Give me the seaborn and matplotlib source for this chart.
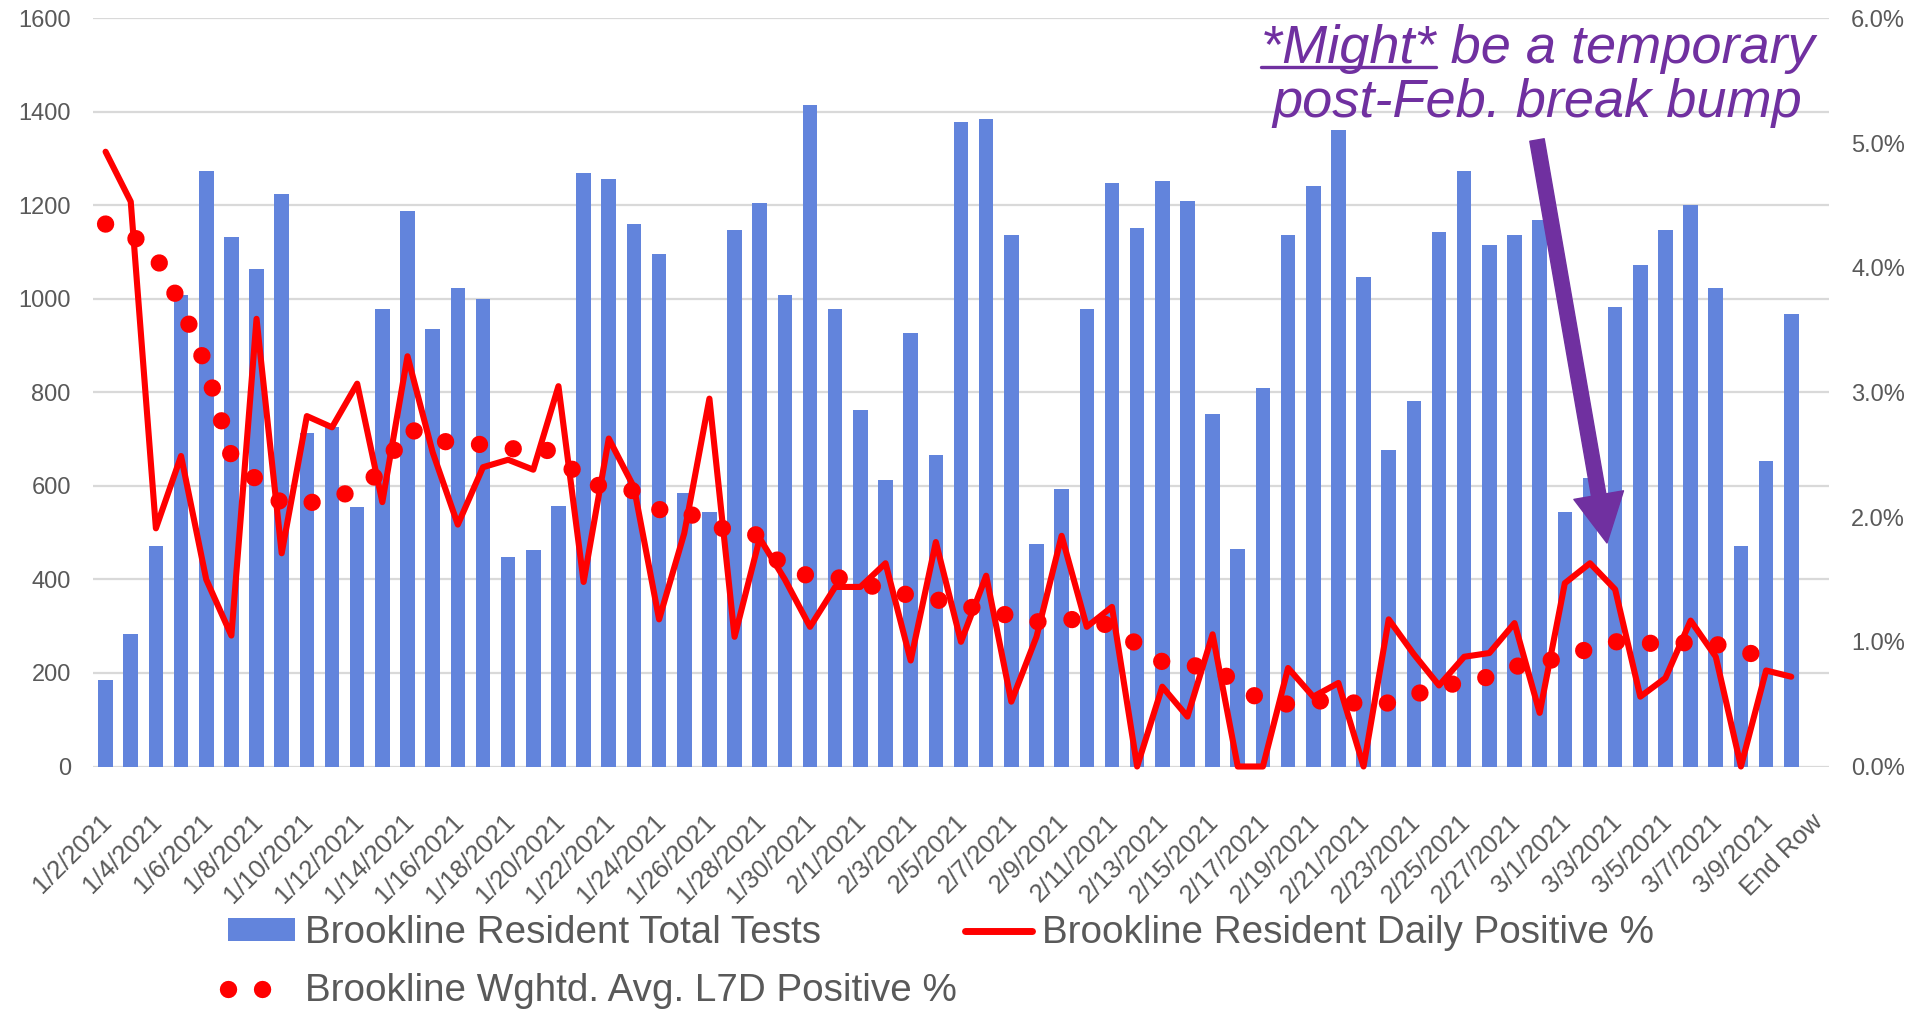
import numpy as np
import pandas as pd
import matplotlib
matplotlib.use("Agg")
import matplotlib.pyplot as plt
import matplotlib.transforms as mtransforms
import seaborn as sns
from matplotlib.lines import Line2D
from matplotlib.patches import Patch, FancyArrowPatch

# ------------------------------------------------------------
# DATA
# ------------------------------------------------------------
day_labels = [f"{d.month}/{d.day}/{d.year}" for d in pd.date_range("2021-01-02", "2021-03-10")]
categories = day_labels + ["End Row"]

total_tests = [184, 283, 472, 1009, 1274, 1132, 1064, 1224, 713, 726,
               554, 978, 1187, 936, 1023, 1000, 448, 462, 558, 1269,
               1256, 1160, 1096, 585, 544, 1147, 1206, 1009, 1415, 978,
               763, 613, 928, 667, 1378, 1384, 1137, 475, 594, 978,
               1247, 1151, 1252, 1210, 754, 466, 809, 1137, 1242, 1361,
               1046, 676, 782, 1142, 1274, 1115, 1137, 1169, 544, 618,
               982, 1073, 1147, 1200, 1023, 472, 653, 968]

daily_pos = [4.93, 4.53, 1.91, 2.49, 1.50, 1.05, 3.59, 1.71, 2.81, 2.72,
             3.07, 2.12, 3.29, 2.52, 1.94, 2.40, 2.46, 2.38, 3.05, 1.48,
             2.63, 2.24, 1.18, 1.87, 2.95, 1.04, 1.83, 1.50, 1.12, 1.44,
             1.44, 1.63, 0.85, 1.80, 1.00, 1.53, 0.52, 1.04, 1.85, 1.12,
             1.28, 0.00, 0.64, 0.40, 1.06, 0.00, 0.00, 0.79, 0.56, 0.67,
             0.00, 1.18, 0.90, 0.65, 0.88, 0.91, 1.15, 0.43, 1.47, 1.63,
             1.42, 0.56, 0.71, 1.17, 0.88, 0.00, 0.77, 0.72]

l7d_pos = [4.35, 4.27, 4.09, 3.70, 3.21, 2.49, 2.30, 2.11, 2.11, 2.15,
           2.22, 2.37, 2.72, 2.61, 2.60, 2.58, 2.55, 2.54, 2.53, 2.26,
           2.25, 2.21, 2.06, 2.06, 1.92, 1.90, 1.85, 1.57, 1.53, 1.52,
           1.47, 1.42, 1.37, 1.34, 1.28, 1.27, 1.20, 1.16, 1.17, 1.19,
           1.12, 0.98, 0.84, 0.81, 0.80, 0.66, 0.52, 0.50, 0.52, 0.54,
           0.49, 0.51, 0.57, 0.65, 0.67, 0.72, 0.80, 0.84, 0.87, 0.95,
           1.00, 1.00, 0.97, 1.00, 0.98, 0.93, 0.87]

left_ticks = [0, 200, 400, 600, 800, 1000, 1200, 1400, 1600]
right_ticks = [0, 1, 2, 3, 4, 5, 6]

BLUE = "#6284DC"
RED = "#FF0000"
PURPLE = "#7030A0"
GRAY = "#595959"
GRID = "#D9D9D9"

DOT_LW = 12.5
DOTS = (0, (0.001, 1.96))

# ------------------------------------------------------------
# FIGURE
# ------------------------------------------------------------
sns.set_theme(style="white")
plt.rcParams["font.family"] = ["Liberation Sans", "DejaVu Sans"]

W, H = 1909, 1011
fig = plt.figure(figsize=(W / 100, H / 100), dpi=100)
ax = fig.add_axes([93 / W, 1 - 766.5 / H, 1736 / W, 748.2 / H])

df = pd.DataFrame({"date": day_labels, "tests": total_tests})
sns.barplot(data=df, x="date", y="tests", order=categories, color=BLUE,
            saturation=1, width=0.58, linewidth=0, ax=ax)

ax2 = ax.twinx()
sns.lineplot(x=np.arange(len(daily_pos)), y=daily_pos, ax=ax2, color=RED,
             lw=4.4, legend=False, clip_on=False)
sns.lineplot(x=np.arange(len(l7d_pos)), y=l7d_pos, ax=ax2, color=RED,
             lw=DOT_LW, linestyle=DOTS, dash_capstyle="round",
             legend=False, clip_on=False)

# axes styling
ax.set_xlim(-0.5, 68.5)
ax.set_ylim(0, 1600)
ax2.set_ylim(0, 6)
ax.set_yticks(left_ticks)
ax2.set_yticks(right_ticks)
ax2.set_yticklabels([f"{v:.1f}%" for v in right_ticks])
ax.set_xticks(range(0, len(categories), 2))
ax.set_xticklabels(categories[::2], rotation=45, ha="right", rotation_mode="anchor")

for a in (ax, ax2):
    a.set_xlabel("")
    a.set_ylabel("")
    for s in a.spines.values():
        s.set_visible(False)
ax.yaxis.grid(True, color=GRID, lw=1.6)
ax.set_axisbelow(True)
ax2.grid(False)

ax.tick_params(axis="y", length=0, pad=16, labelsize=17, labelcolor=GRAY)
ax2.tick_params(axis="y", length=0, pad=16, labelsize=17, labelcolor=GRAY)
ax.tick_params(axis="x", length=0, pad=31, labelsize=18.5, labelcolor=GRAY)
shift = mtransforms.ScaledTranslation(-6 / 100, 0, fig.dpi_scale_trans)
for lab in ax.get_xticklabels():
    lab.set_transform(lab.get_transform() + shift)

# legend
handles = [
    Patch(facecolor=BLUE, edgecolor="none"),
    Line2D([], [], color=RED, lw=DOT_LW, linestyle=DOTS, dash_capstyle="round"),
    Line2D([], [], color=RED, lw=5),
]
names = ["Brookline Resident Total Tests",
         "Brookline Wghtd. Avg. L7D Positive %",
         "Brookline Resident Daily Positive %"]
fig.legend(handles, names, ncol=2, loc="upper left",
           bbox_to_anchor=(228 / W, 1 - 915 / H), frameon=False,
           fontsize=27.8, labelcolor=GRAY, borderpad=0, borderaxespad=0,
           handlelength=1.74, handleheight=0.52, handletextpad=0.26,
           columnspacing=0.2, labelspacing=0.57)

# annotation
fig.canvas.draw()
renderer = fig.canvas.get_renderer()
txt_kw = dict(color=PURPLE, fontsize=39, fontstyle="italic", va="baseline")
line1 = fig.text(1538 / W, 1 - 63 / H, "*Might* be a temporary", ha="center", **txt_kw)
fig.text(1537 / W, 1 - 117 / H, "post-Feb. break bump", ha="center", **txt_kw)
tmp = fig.text(0, 0, "*Might*", **txt_kw)
w_might = tmp.get_window_extent(renderer).width
tmp.remove()
x0 = line1.get_window_extent(renderer).x0
fig.add_artist(Line2D([x0 / W, (x0 + w_might) / W], [1 - 67 / H, 1 - 67 / H],
                      transform=fig.transFigure, color=PURPLE, lw=2.4))

fig.add_artist(FancyArrowPatch(
    (1537, H - 140), (1607, H - 543), transform=None,
    arrowstyle="simple,head_length=1.4,head_width=1.45,tail_width=0.42",
    mutation_scale=25, color=PURPLE, shrinkA=0, shrinkB=0))

fig.savefig("out.png", dpi=100)
